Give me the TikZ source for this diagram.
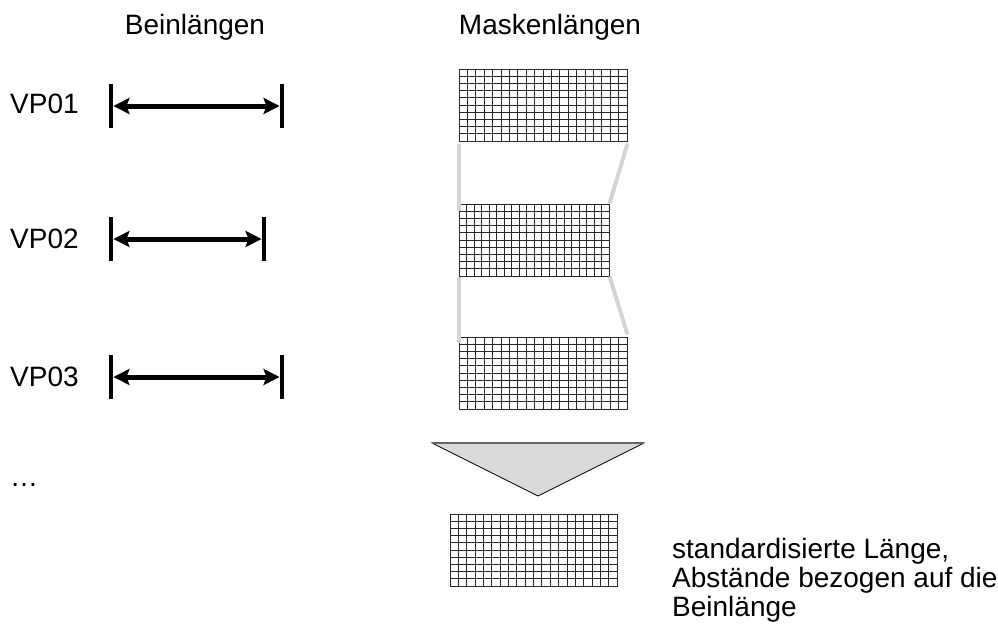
\documentclass[tikz,border=0pt]{standalone}
\usepackage{fontspec}
\setmainfont{Liberation Sans}
\usetikzlibrary{arrows.meta,calc}

\begin{document}
\begin{tikzpicture}[
    x=1pt, y=-1pt,
    txt/.style={font=\fontsize{28}{29}\selectfont, inner sep=0pt},
    gridline/.style={draw=black!85, line width=0.8pt},
    mask/.style={rectangle, draw=black!85, line width=1pt, inner sep=0pt, minimum height=72pt,
        path picture={
            \foreach \k in {1,...,19}
                \draw[gridline] ($(path picture bounding box.north west)!\k/20!(path picture bounding box.north east)$) -- ($(path picture bounding box.south west)!\k/20!(path picture bounding box.south east)$);
            \foreach \k in {1,...,9}
                \draw[gridline] ($(path picture bounding box.north west)!\k/10!(path picture bounding box.south west)$) -- ($(path picture bounding box.north east)!\k/10!(path picture bounding box.south east)$);
        }},
    bar/.style={rectangle, fill=black, minimum width=4.5pt, minimum height=44pt, inner sep=0pt},
    lenarrow/.style={draw=black, line width=5pt, {Stealth[length=16pt,width=16pt,inset=3pt]}-{Stealth[length=16pt,width=16pt,inset=3pt]}},
    link/.style={line width=4pt, draw=black!17},
    funnel/.style={fill=black!15, draw=black, line width=0.8pt}
]
    \useasboundingbox (0,0) rectangle (998,630);

    \node [txt, anchor=base] (bein) at (195,34) {Beinlängen};
    \node [txt, anchor=base] (maske) at (550,34) {Maskenlängen};

    \node [txt, anchor=base west] (vp1) at (10,113) {VP01};
    \node [txt, anchor=base west] (vp2) at (10,248) {VP02};
    \node [txt, anchor=base west] (vp3) at (10,386) {VP03};
    \node [txt, anchor=base west] (more) at (10,486) {…};

    \node [bar] (l1) at (111,106) {};
    \node [bar] (r1) at (282,106) {};
    \node [bar] (l2) at (111,239) {};
    \node [bar] (r2) at (264,239) {};
    \node [bar] (l3) at (111,377) {};
    \node [bar] (r3) at (282,377) {};
    \draw [lenarrow] (l1) -- (r1);
    \draw [lenarrow] (l2) -- (r2);
    \draw [lenarrow] (l3) -- (r3);

    \node [mask, minimum width=168pt] (m1) at (543,105) {};
    \node [mask, minimum width=150pt] (m2) at (534,240) {};
    \node [mask, minimum width=168pt] (m3) at (543,373) {};
    \node [mask, minimum width=167pt] (m4) at (533.5,550) {};

    \draw [link, shorten >=-7pt] ([yshift=-2pt]m1.south west) -- (m2.north west);
    \draw [link] ([yshift=-2pt]m1.south east) -- (m2.north east);
    \draw [link, shorten >=-6pt] (m2.south west) -- (m3.north west);
    \draw [link] (m2.south east) -- ([yshift=2pt]m3.north east);

    \draw [funnel] (432,443) -- (538,496) -- (644,443) -- cycle;
    \draw [line width=2pt, draw=black!60] (432,443) -- (644,443);

    \node [txt, anchor=north west, align=left] (note) at (672,538) {standardisierte Länge,\\Abstände bezogen auf die\\Beinlänge};
\end{tikzpicture}
\end{document}
